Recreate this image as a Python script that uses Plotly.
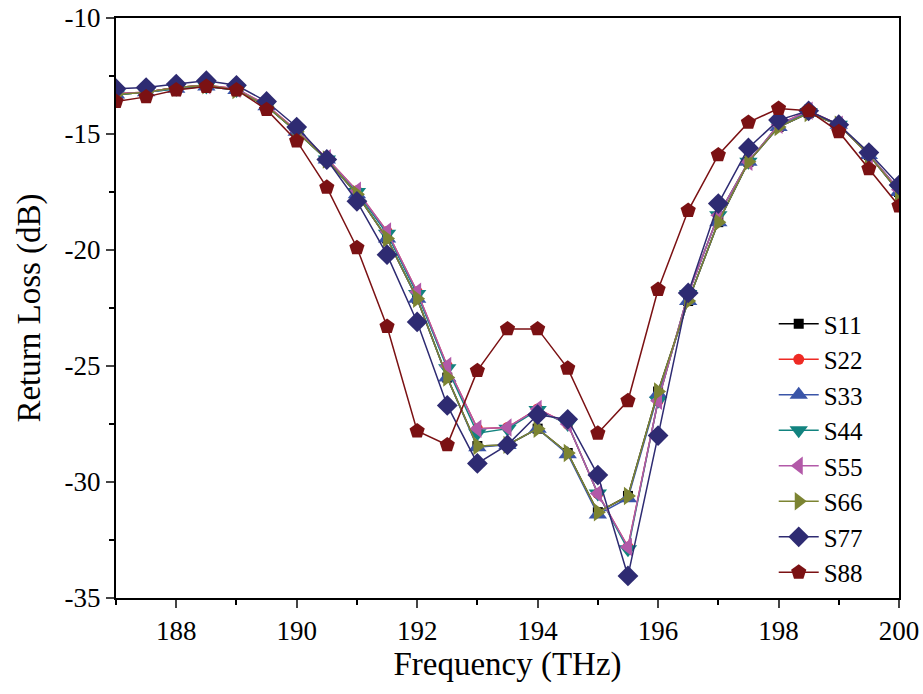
import plotly.graph_objects as go

freq = [187, 187.5, 188, 188.5, 189, 189.5, 190, 190.5, 191, 191.5, 192, 192.5, 193,
        193.5, 194, 194.5, 195, 195.5, 196, 196.5, 197, 197.5, 198, 198.5, 199, 199.5, 200]

s11 = [-13.3, -13.2, -13.0, -12.9, -13.1, -13.8, -14.9, -16.1, -17.6, -19.5, -22.1, -25.5, -28.45,
       -28.4, -27.7, -28.75, -31.3, -30.6, -26.1, -22.2, -18.8, -16.2, -14.7, -14.1, -14.6, -15.9, -17.5]
s22 = [-13.25, -13.2, -13.0, -12.9, -13.05, -13.75, -14.85, -16.05, -17.45, -19.2, -21.8, -25.0, -27.7,
       -27.65, -26.85, -27.5, -30.5, -32.8, -26.5, -21.9, -18.5, -16.2, -14.6, -14.0, -14.6, -15.9, -17.4]
s33 = [-13.3, -13.2, -13.05, -12.95, -13.1, -13.8, -14.9, -16.1, -17.6, -19.5, -22.1, -25.5, -28.5,
       -28.4, -27.7, -28.8, -31.4, -30.7, -26.2, -22.2, -18.8, -16.2, -14.7, -14.1, -14.6, -15.9, -17.5]
s44 = [-13.3, -13.2, -13.05, -12.95, -13.1, -13.8, -14.9, -16.1, -17.5, -19.3, -21.9, -25.1, -27.9,
       -27.7, -26.9, -27.5, -30.5, -32.9, -26.5, -21.9, -18.5, -16.2, -14.6, -14.05, -14.6, -15.9, -17.4]
s55 = [-13.25, -13.2, -13.0, -12.9, -13.05, -13.75, -14.85, -16.05, -17.45, -19.2, -21.8, -25.0, -27.7,
       -27.65, -26.85, -27.5, -30.5, -32.8, -26.5, -21.9, -18.5, -16.2, -14.6, -14.0, -14.6, -15.9, -17.4]
s66 = [-13.3, -13.2, -13.0, -12.9, -13.1, -13.8, -14.9, -16.1, -17.6, -19.5, -22.1, -25.5, -28.45,
       -28.4, -27.7, -28.75, -31.3, -30.6, -26.1, -22.2, -18.8, -16.2, -14.7, -14.1, -14.6, -15.9, -17.5]
s77 = [-13.05, -13.0, -12.85, -12.7, -12.9, -13.6, -14.7, -16.1, -17.9, -20.2, -23.1, -26.7, -29.2,
       -28.4, -27.1, -27.3, -29.7, -34.05, -28.0, -21.85, -18.0, -15.6, -14.4, -14.0, -14.6, -15.8, -17.2]
s88 = [-13.6, -13.4, -13.1, -12.95, -13.1, -13.95, -15.3, -17.3, -19.9, -23.3, -27.8, -28.4, -25.2,
       -23.4, -23.4, -25.1, -27.9, -26.5, -21.7, -18.3, -15.9, -14.5, -13.9, -14.0, -14.9, -16.5, -18.1]

names = ["S11", "S22", "S33", "S44", "S55", "S66", "S77", "S88"]
series = [s11, s22, s33, s44, s55, s66, s77, s88]
colors = ["#000000", "#ee2a24", "#3a55a8", "#12837f", "#b259a8", "#7c8432", "#2e2b72", "#7b1113"]
symbols = ["square", "circle", "triangle-up", "triangle-down", "triangle-left",
           "triangle-right", "diamond", "pentagon"]
sizes = [10, 11, 16, 16, 16, 16, 16, 16]

x_ticks = [188, 190, 192, 194, 196, 198, 200]
x_labels = ["188", "190", "192", "194", "196", "198", "200"]
y_ticks = [-35, -30, -25, -20, -15, -10]
y_labels = ["-35", "-30", "-25", "-20", "-15", "-10"]

fig = go.Figure()
for n, ys, c, s, sz in zip(names, series, colors, symbols, sizes):
    fig.add_trace(go.Scatter(
        x=freq, y=ys, name=n, mode="lines+markers",
        line=dict(color=c, width=1.5),
        marker=dict(symbol=s, size=sz, color=c, line=dict(width=0)),
    ))

font = "Liberation Serif"
fig.update_layout(
    width=923, height=694,
    margin=dict(l=116, r=24, t=18, b=96),
    plot_bgcolor="white", paper_bgcolor="white",
    font=dict(family=font, size=27, color="black"),
    showlegend=True,
    legend=dict(x=0.84, y=0.512, xanchor="left", yanchor="top",
                bgcolor="rgba(0,0,0,0)", font=dict(size=25, family=font),
                itemwidth=40, tracegroupgap=0),
)
fig.update_xaxes(
    range=[187, 200], tickvals=x_ticks, ticktext=x_labels,
    ticks="outside", ticklen=8, tickwidth=2, automargin=False,
    showline=True, linewidth=2, linecolor="black", mirror=True, showgrid=False, zeroline=False,
    minor=dict(dtick=1, ticks="outside", ticklen=5, tickwidth=2, tickcolor="black"),
    title=dict(text="Frequency (THz)", font=dict(size=33, family=font), standoff=6),
    tickfont=dict(size=27, family=font),
)
fig.update_yaxes(
    range=[-35, -10], tickvals=y_ticks, ticktext=y_labels,
    ticks="outside", ticklen=8, tickwidth=2, automargin=False,
    showline=True, linewidth=2, linecolor="black", mirror=True, showgrid=False, zeroline=False,
    minor=dict(dtick=2.5, ticks="outside", ticklen=5, tickwidth=2, tickcolor="black"),
    title=dict(text="Return Loss (dB)", font=dict(size=33, family=font), standoff=14),
    tickfont=dict(size=27, family=font),
)
fig.write_html("out.html")
